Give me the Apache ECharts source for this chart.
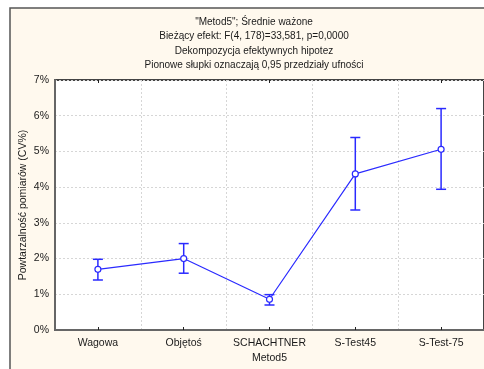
<!DOCTYPE html>
<html><head><meta charset="utf-8">
<script src="https://cdn.jsdelivr.net/npm/echarts@6/dist/echarts.min.js"></script>
<style>html,body{margin:0;padding:0;background:#fff}#c{width:484px;height:369px}</style>
</head><body><div id="c"></div>
<script>
const categories = ['Wagowa', 'Objętoś', 'SCHACHTNER', 'S-Test45', 'S-Test-75'];
const means = [1.70, 2.00, 0.86, 4.37, 5.06];
const lowerCI = [1.40, 1.59, 0.70, 3.36, 3.94];
const upperCI = [1.98, 2.42, 0.99, 5.39, 6.20];
const titleLines = ['"Metod5"; Średnie ważone', 'Bieżący efekt: F(4, 178)=33,581, p=0,0000', 'Dekompozycja efektywnych hipotez', 'Pionowe słupki oznaczają 0,95 przedziały ufności'];

const FONT = '"Liberation Sans", Arial, sans-serif';
const BLUE = '#2a2aff';
const chart = echarts.init(document.getElementById('c'), null, {renderer: 'canvas'});
const errData = categories.map((c, i) => [i, lowerCI[i], upperCI[i]]);

chart.setOption({
  animation: false,
  backgroundColor: '#ffffff',
  graphic: [
    {type: 'rect', z: -10, shape: {x: 10, y: 8, width: 520, height: 420},
     style: {fill: '#fff9ee', stroke: '#555', lineWidth: 1.5}}
  ].concat(titleLines.map((t, i) => ({
    type: 'text', z: 10, x: 254, y: 22 + i * 14.5,
    style: {text: t, font: '10px ' + FONT, fill: '#1a1a1a', align: 'center', verticalAlign: 'middle'}
  }))),
  grid: {left: 55, right: -6, top: 80, bottom: 36, show: true, backgroundColor: '#ffffff',
         borderColor: '#444', borderWidth: 2},
  xAxis: [{
    type: 'category', data: categories, name: 'Metod5', nameLocation: 'middle', nameGap: 23,
    nameMoveOverlap: false,
    nameTextStyle: {fontFamily: FONT, fontSize: 10.5, color: '#1a1a1a'},
    axisLine: {lineStyle: {color: '#666', width: 2}},
    axisTick: {show: true, inside: true, length: 3, alignWithLabel: true, lineStyle: {color: '#222'}},
    axisLabel: {fontFamily: FONT, fontSize: 10.5, color: '#1a1a1a', margin: 8, interval: 0},
    splitLine: {show: true, interval: 0, lineStyle: {color: '#d6d6d6', type: [2, 2]}}
  }, {
    type: 'category', data: categories, position: 'top',
    axisLine: {show: false},
    axisTick: {show: true, inside: true, length: 3, alignWithLabel: true, lineStyle: {color: '#222'}},
    axisLabel: {show: false}, splitLine: {show: false}
  }],
  yAxis: {
    type: 'value', min: 0, max: 7, interval: 1,
    name: 'Powtarzalność pomiarów (CV%)', nameLocation: 'middle', nameGap: 26,
    nameMoveOverlap: false,
    nameTextStyle: {fontFamily: FONT, fontSize: 10.5, color: '#1a1a1a'},
    axisLine: {show: true, lineStyle: {color: '#666', width: 2}},
    axisTick: {show: false},
    axisLabel: {formatter: '{value}%', fontFamily: FONT, fontSize: 10.5, color: '#1a1a1a', margin: 6},
    splitLine: {show: true, lineStyle: {color: '#d6d6d6', type: [2, 2]}}
  },
  series: [{
    type: 'custom', data: errData, z: 3,
    encode: {x: 0, y: [1, 2]},
    renderItem: function (params, api) {
      const x = api.value(0);
      const lo = api.coord([x, api.value(1)]);
      const hi = api.coord([x, api.value(2)]);
      const w = 5;
      const st = {stroke: BLUE, lineWidth: 1.5};
      return {type: 'group', children: [
        {type: 'line', shape: {x1: lo[0], y1: lo[1], x2: hi[0], y2: hi[1]}, style: st},
        {type: 'line', shape: {x1: lo[0] - w, y1: lo[1], x2: lo[0] + w, y2: lo[1]}, style: st},
        {type: 'line', shape: {x1: hi[0] - w, y1: hi[1], x2: hi[0] + w, y2: hi[1]}, style: st}
      ]};
    }
  }, {
    type: 'line', data: means, z: 4,
    symbol: 'circle', symbolSize: 6,
    lineStyle: {color: BLUE, width: 1.2},
    itemStyle: {color: '#ffffff', borderColor: BLUE, borderWidth: 1.2}
  }]
});
</script></body></html>
